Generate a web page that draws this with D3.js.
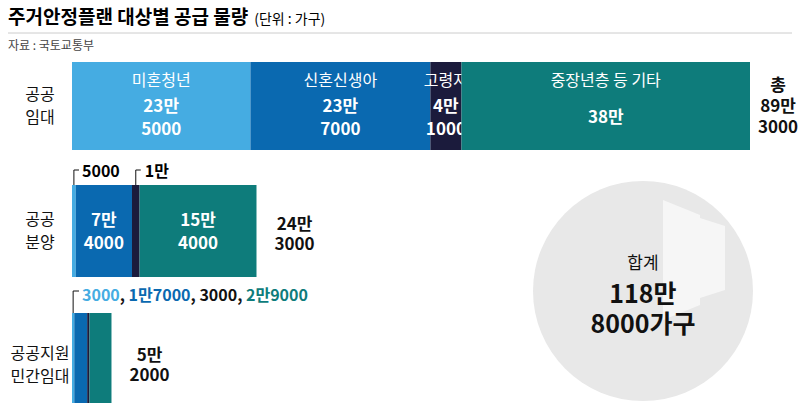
<!DOCTYPE html><html><head><meta charset="utf-8"><script src="https://cdn.jsdelivr.net/npm/d3@7"></script>
<style>body{margin:0;background:#fff}text{font-family:"Noto Sans CJK KR",sans-serif}</style></head><body><svg id="c" width="800" height="403"></svg>
<script>
const categories=["공공\n임대","공공\n분양","공공지원\n민간임대"];
const segNames=["미혼청년","신혼신생아","고령자","중장년층 등 기타"];
const values=[[235000,237000,41000,380000],[5000,74000,10000,154000],[3000,17000,3000,29000]];
const segLabels=[["23만\n5000","23만\n7000","4만\n1000","38만"],["","7만\n4000","","15만\n4000"],["","","",""]];
const totals=["89만\n3000","24만\n3000","5만\n2000"];
const smallLabels=["3000","1만7000","3000","2만9000"];
const colors=["#45ace2","#0a69b0","#1b1b3c","#0e7c7b"];
const svg=d3.select("#c");
const x=d3.scaleLinear().domain([0,893000]).range([72,750]);
const ys=[[62,150],[185,277],[313,410]];
function ml(sel,str,xx,yc,lh,attrs){const ls=str.split("\n");const t=sel.append("text").attr("x",xx).attr("text-anchor",attrs.anchor||"middle").attr("font-size",attrs.size).attr("font-weight",attrs.weight||400).attr("fill",attrs.fill||"#111");
ls.forEach((l,i)=>t.append("tspan").attr("x",xx).attr("y",yc+(i-(ls.length-1)/2)*lh+attrs.size*0.36).text(l));return t;}
svg.append("text").attr("x",8).attr("y",24).attr("font-size",19).attr("font-weight",700).text("주거안정플랜 대상별 공급 물량").append("tspan").attr("font-size",14).attr("font-weight",400).attr("dx",6).text("(단위 : 가구)");
svg.append("line").attr("x1",8).attr("x2",792).attr("y1",33).attr("y2",33).attr("stroke","#ccc");
svg.append("text").attr("x",8).attr("y",50).attr("font-size",12).attr("fill","#444").text("자료 : 국토교통부");
svg.append("circle").attr("cx",643).attr("cy",291).attr("r",110).attr("fill","#e8e8e8");
const bg=svg.append("g").attr("fill","#f6f6f6");
bg.append("path").attr("d","M663,200 L700,215 L700,305 L663,320 Z");
bg.append("path").attr("d","M700,218 L725,226 L725,290 L700,298 Z");
ml(svg,"합계",643,263,0,{size:17});
ml(svg,"118만\n8000가구",643,309,30,{size:25,weight:700});
values.forEach((row,r)=>{let acc=0;const[y0,y1]=ys[r];
 row.forEach((v,i)=>{svg.append("rect").attr("x",x(acc)).attr("y",y0).attr("width",x(acc+v)-x(acc)).attr("height",y1-y0).attr("fill",colors[i]);
  const cx=(x(acc)+x(acc+v))/2;
  if(segLabels[r][i])ml(svg,segLabels[r][i],cx,r==0?117:231,23,{size:17,weight:700,fill:"#fff"});
  if(r==0)ml(svg,segNames[i],cx,80,0,{size:16,fill:"#fff"});
  acc+=v;});
 ml(svg,categories[r],40,r==2?(y0+y1)/2+3:(y0+y1)/2,23,{size:16});
 const tl=r==0?"총\n89만\n3000":totals[r];
 ml(svg,tl,x(acc)+(r==0?28:38),r==0?106:(y0+y1)/2+3,r==0?21:20,{size:17,weight:700});
});
const cg=svg.append("g").attr("stroke","#111").attr("fill","none");
cg.append("path").attr("d",`M${x(2500)},185 V170 H79`);
svg.append("text").attr("x",82).attr("y",177).attr("font-size",16).attr("font-weight",700).text("5000");
const mid=x(79000+5000);
cg.append("path").attr("d",`M${mid},185 V170 H${mid+5}`);
svg.append("text").attr("x",mid+9).attr("y",177).attr("font-size",16).attr("font-weight",700).text("1만");
cg.append("path").attr("d",`M${x(1500)},313 V291 H79`);
const t3=svg.append("text").attr("x",82).attr("y",301).attr("font-size",16).attr("font-weight",700);
smallLabels.forEach((s,i)=>{t3.append("tspan").attr("fill",i==2?"#111":colors[i]).text(s);if(i<3)t3.append("tspan").attr("fill","#111").text(", ");});
</script></body></html>
